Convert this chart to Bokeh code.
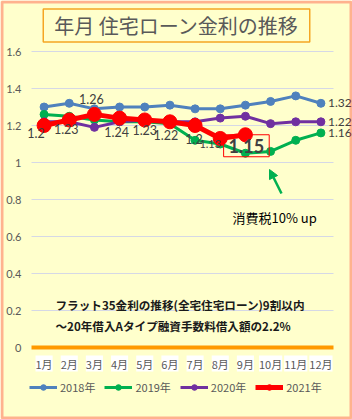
from bokeh.plotting import figure
from bokeh.models import (Range1d, Label, LabelSet, ColumnDataSource,
                          Legend, LegendItem, Arrow, NormalHead, BoxAnnotation)
from bokeh.core.properties import value
from bokeh.embed import file_html
from bokeh.resources import INLINE

# ---------------- data ----------------
months = ["1月", "2月", "3月", "4月", "5月", "6月", "7月", "8月", "9月", "10月", "11月", "12月"]
rate_2018 = [1.30, 1.32, 1.29, 1.30, 1.30, 1.31, 1.29, 1.29, 1.31, 1.33, 1.36, 1.32]
rate_2019 = [1.26, 1.25, 1.23, 1.22, 1.22, 1.21, 1.12, 1.10, 1.05, 1.06, 1.12, 1.16]
rate_2020 = [1.22, 1.22, 1.19, 1.22, 1.23, 1.22, 1.22, 1.24, 1.25, 1.21, 1.22, 1.22]
rate_2021 = [1.20, 1.23, 1.26, 1.24, 1.23, 1.22, 1.20, 1.13, 1.15]
series_names = ["2018年", "2019年", "2020年", "2021年"]
y_ticks = [0, 0.2, 0.4, 0.6, 0.8, 1.0, 1.2, 1.4, 1.6]
y_tick_labels = ["0", "0.2", "0.4", "0.6", "0.8", "1", "1.2", "1.4", "1.6"]
title_text = "年月 住宅ローン金利の推移"
note_line1 = "フラット35金利の推移(全宅住宅ローン)9割以内"
note_line2 = "～20年借入Aタイプ融資手数料借入額の2.2%"
callout_text = "消費税10% up"

# ---------------- styles / layout ----------------
BG = "#FFFFCC"
GRAY = "#595959"
DARK = "#404040"
colors = ["#4F81BD", "#00B050", "#7030A0", "#FF0000"]
line_widths = [3, 3, 3, 5]
marker_sizes = [8, 8, 8, 14]
NUM_FONT = "Lato"
JP_FONT = "Noto Sans CJK JP"

W, H = 352, 419
PLOT_L, PLOT_R = 31, 333     # plot area (pixels)
ZERO_Y, PX_PER_UNIT = 347, 185

n = len(months)
band = (PLOT_R - PLOT_L) / n
x_pos = list(range(1, n + 1))               # category positions
x_start = 0.5 - PLOT_L / band
x_end = 0.5 + (W - PLOT_L) / band
y_end = ZERO_Y / PX_PER_UNIT
y_start = -(H - ZERO_Y) / PX_PER_UNIT

def sy(canvas_y):
    # canvas y (from top) -> screen units used by annotations (from bottom)
    return H - canvas_y

p = figure(width=W, height=H, x_range=Range1d(x_start, x_end), y_range=Range1d(y_start, y_end),
           output_backend="svg", toolbar_location=None, x_axis_location=None,
           y_axis_location=None, min_border=0)
p.background_fill_color = BG
p.border_fill_color = BG
p.outline_line_color = None
p.grid.visible = False

# gridlines and baseline
grid_y = [t for t in y_ticks if t != 0]
p.segment(x0=[0.5] * len(grid_y), x1=[n + 0.5] * len(grid_y), y0=grid_y, y1=grid_y,
          line_color="#D5D8E6", line_width=1)
p.segment(x0=[0.5], x1=[n + 0.5], y0=[0], y1=[0], line_color="#FF9900", line_width=4)

# y tick labels
yl = ColumnDataSource(dict(y=y_ticks, t=y_tick_labels))
p.add_layout(LabelSet(x=21, x_units="screen", y="y", text="t", source=yl,
                      text_font=value(NUM_FONT), text_font_size="11px", text_color=GRAY,
                      text_align="right", text_baseline="middle"))

# series
all_rates = [rate_2018, rate_2019, rate_2020, rate_2021]
items = []
for name, rates, c, lw, ms in zip(series_names, all_rates, colors, line_widths, marker_sizes):
    src = ColumnDataSource(dict(x=x_pos[:len(rates)], y=rates))
    lr = p.line("x", "y", source=src, line_color=c, line_width=lw)
    sr = p.scatter("x", "y", source=src, marker="circle", size=ms, fill_color=c, line_color=c)
    items.append(LegendItem(label=name, renderers=[lr, sr]))

# data labels for 2021
offsets_2021 = [(-8, -7), (-3, -9), (-3, 15), (-3, -14), (0, -10), (-4, -13), (-1, -13), (-10, -6)]
for i, (dx, dy) in enumerate(offsets_2021):
    v = rate_2021[i]
    p.add_layout(Label(x=x_pos[i], y=v, x_offset=dx, y_offset=dy, text=f"{v:g}",
                       text_font=NUM_FONT, text_font_size="12.5px" if i < 7 else "11px",
                       text_color=DARK, text_align="center", text_baseline="middle"))
# highlighted last label
last = len(rate_2021) - 1
p.add_layout(Label(x=x_pos[last], y=rate_2021[last], x_offset=1, y_offset=-11,
                   text=f"{rate_2021[last]:g}", text_font=NUM_FONT, text_font_size="18px",
                   text_font_style="bold", text_color=DARK, text_align="center",
                   text_baseline="middle", border_line_color="#FF0000", border_line_width=1,
                   padding=dict(left=5, right=5, top=4, bottom=4)))

# end labels for 2018-2020
for rates in all_rates[:3]:
    p.add_layout(Label(x=x_pos[len(rates) - 1], y=rates[-1], x_offset=7, text=f"{rates[-1]:.2f}",
                       text_font=NUM_FONT, text_font_size="12px", text_color=DARK,
                       text_align="left", text_baseline="middle"))

# x tick labels with white boxes
xl = ColumnDataSource(dict(x=x_pos, y=[sy(363)] * n, t=months))
p.add_layout(LabelSet(x="x", y="y", y_units="screen", text="t", source=xl,
                      text_font=value(JP_FONT), text_font_size="11px", text_color=GRAY,
                      text_align="center", text_baseline="middle",
                      background_fill_color="white"))

# legend
legend = Legend(items=items, orientation="horizontal", location=(29, sy(395)),
                label_text_font=JP_FONT, label_text_font_size="11px",
                label_text_color=GRAY, glyph_width=28, glyph_height=14, label_standoff=3,
                spacing=9, padding=0, margin=0, border_line_color=None,
                background_fill_alpha=0)
p.add_layout(legend)

# title box
p.add_layout(Label(x=176, y=sy(25), x_units="screen", y_units="screen",
                   text=title_text, text_font=JP_FONT, text_font_size="20px",
                   text_color=GRAY, text_align="center", text_baseline="middle",
                   border_line_color="#F5A623", border_line_width=1.5,
                   padding=dict(left=11, right=11, top=2, bottom=2)))

# notes
p.add_layout(Label(x=55, y=sy(304), x_units="screen", y_units="screen",
                   text=note_line1, text_font=JP_FONT, text_font_size="11.6px",
                   text_font_style="bold", text_color="#1A1A1A", text_baseline="middle"))
p.add_layout(Label(x=55, y=sy(325), x_units="screen", y_units="screen",
                   text=note_line2, text_font=JP_FONT, text_font_size="11.6px",
                   text_font_style="bold", text_color="#1A1A1A", text_baseline="middle"))

# callout
p.add_layout(Label(x=232, y=sy(217), x_units="screen", y_units="screen",
                   text=callout_text, text_font=JP_FONT, text_font_size="13px",
                   text_color="#000000", text_baseline="middle"))
p.add_layout(Arrow(x_start=281, y_start=sy(193), x_end=269, y_end=sy(169),
                   start_units="screen", end_units="screen",
                   line_color="#00B050", line_width=2.5,
                   end=NormalHead(size=9, fill_color="#00B050", line_color="#00B050")))

# outer red border
p.add_layout(BoxAnnotation(left=1.5, right=W - 1.5, top=H - 1.5, bottom=1.5,
                           left_units="screen", right_units="screen",
                           top_units="screen", bottom_units="screen", fill_alpha=0,
                           line_color="#FF0000", line_width=3))

open("out.html", "w").write(file_html(p, INLINE))
